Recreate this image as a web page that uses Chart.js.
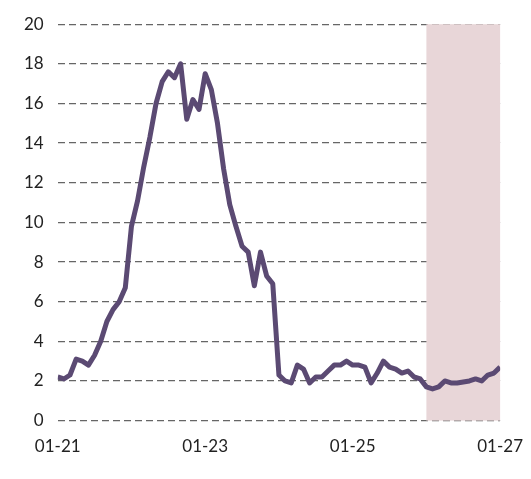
<!DOCTYPE html>
<html><head><meta charset="utf-8">
<script src="https://cdn.jsdelivr.net/npm/chart.js@4"></script>
<style>html,body{margin:0;padding:0;background:#fff}#w{width:531px;height:479px}</style>
</head><body><div id="w"><canvas id="c"></canvas></div>
<script>
const values=[2.2,2.1,2.3,3.1,3.0,2.8,3.3,4.0,5.0,5.6,6.0,6.7,9.8,11.1,12.8,14.3,16.0,17.1,17.6,17.3,18.0,15.2,16.2,15.7,17.5,16.7,15.0,12.7,10.9,9.8,8.8,8.5,6.8,8.5,7.3,6.9,2.3,2.0,1.9,2.8,2.6,1.9,2.2,2.2,2.5,2.8,2.8,3.0,2.8,2.8,2.7,1.9,2.4,3.0,2.7,2.6,2.4,2.5,2.2,2.1,1.7,1.6,1.7,2.0,1.9,1.9,1.95,2.0,2.1,2.0,2.3,2.4,2.7];
const tickLabels={0:'01-21',24:'01-23',48:'01-25',72:'01-27'};
const shadeStart=60, shadeEnd=72;
const shade={id:'shade',beforeDatasetsDraw(ch){const {ctx,chartArea:a,scales:{x}}=ch;ctx.save();ctx.fillStyle='#e8d6d8';const l=x.getPixelForValue(shadeStart),r=x.getPixelForValue(shadeEnd);ctx.fillRect(l,a.top,r-l,a.bottom-a.top);ctx.restore();}};
new Chart(document.getElementById('c'),{type:'line',
data:{datasets:[{data:values.map((v,i)=>({x:i,y:v})),borderColor:'#5b4a73',borderWidth:5,pointRadius:0,tension:0,borderJoinStyle:'round'}]},
options:{responsive:true,maintainAspectRatio:false,animation:false,
layout:{padding:{left:10,right:30,top:13,bottom:14}},
plugins:{legend:{display:false},tooltip:{enabled:false}},
scales:{
x:{type:'linear',min:0,max:72,grid:{display:false},border:{display:false},
ticks:{stepSize:24,autoSkip:false,maxRotation:0,font:{family:'Lato',size:17},color:'#222',padding:8,callback:v=>tickLabels[v]??''}},
y:{min:0,max:20,grid:{color:'#666',lineWidth:1.3,drawTicks:false},border:{display:false,dash:[7,4]},
ticks:{stepSize:2,font:{family:'Lato',size:17},color:'#222',padding:14}}}},
plugins:[shade]});
</script></body></html>
